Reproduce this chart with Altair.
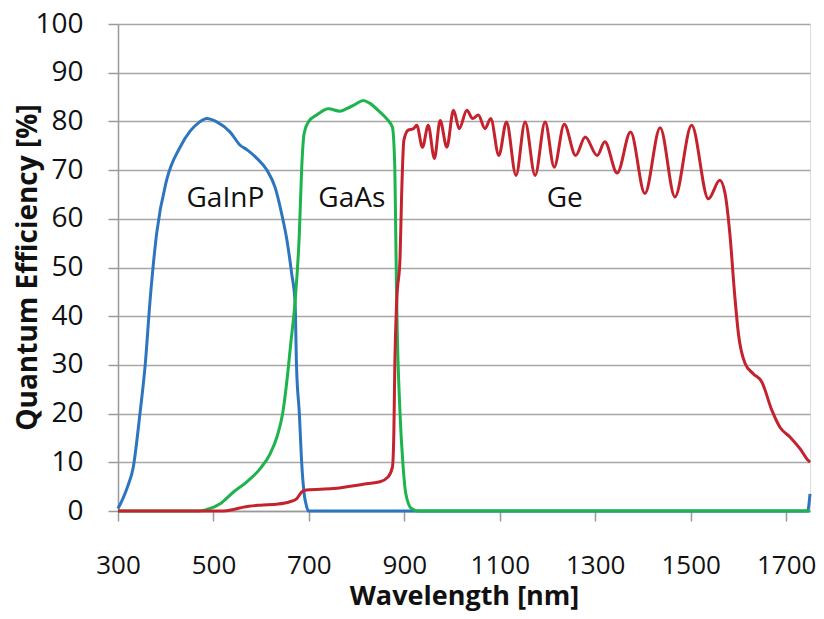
import altair as alt
import pandas as pd

# GaInP (blue)
gainp_nm = [300, 310, 320, 332, 346, 357, 367, 381, 402, 430, 451, 470, 486, 507, 535, 556, 570, 591, 612, 629, 643, 654, 664, 671, 674, 680, 685, 690, 695, 699, 720, 800, 900, 1100, 1300, 1500, 1700, 1745, 1750]
gainp_qe = [0.5, 2.5, 5, 9, 20, 30, 43, 57, 68, 74.7, 78, 79.8, 80.6, 79.9, 77.8, 75.1, 74.2, 72.4, 70, 66.5, 61, 55.6, 48.7, 43, 30, 20, 9.7, 3.6, 1, 0, 0, 0, 0, 0, 0, 0, 0, 0, 3.5]

# GaAs (green)
gaas_nm = [300, 400, 470, 486, 514, 542, 570, 598, 619, 633, 645, 654, 662, 671, 680, 685, 690, 699, 716, 741, 765, 779, 797, 814, 828, 849, 866, 875, 880, 882, 884, 891, 897, 903, 915, 930, 1100, 1300, 1500, 1750]
gaas_qe = [0, 0, 0, 0.3, 1.5, 3.9, 6, 8.7, 11.8, 15.2, 20, 26.8, 34.4, 43, 57, 70.6, 77.5, 79.9, 81.3, 82.6, 82.1, 82.6, 83.5, 84.3, 83.7, 81.9, 80.2, 78.8, 70.6, 57, 43, 20, 9.7, 3.6, 0.5, 0, 0, 0, 0, 0]

# Ge (red)
ge_nm = [300, 450, 520, 542, 563, 598, 633, 660, 674, 685, 695, 751, 821, 849, 866, 875, 878, 880, 884, 891, 894, 899, 908, 919, 926, 938, 950, 963, 975, 989, 1003, 1015, 1031, 1043, 1055, 1069, 1081, 1098, 1114, 1134, 1153, 1174, 1195, 1214, 1235, 1259, 1279, 1304, 1320, 1346, 1374, 1404, 1436, 1467, 1502, 1537, 1561, 1572, 1582, 1592, 1600, 1614, 1631, 1649, 1670, 1687, 1708, 1729, 1746, 1750]
ge_qe = [0, 0, 0, 0.3, 0.8, 1.2, 1.4, 1.9, 2.5, 3.9, 4.3, 4.6, 5.6, 6, 7, 9, 15.9, 29.6, 43, 52, 63.8, 76.1, 78.2, 78.5, 79.2, 74.7, 79.2, 72.4, 80.2, 74.7, 82.3, 78.5, 82.3, 80.6, 81.3, 78.5, 80.6, 73, 79.9, 68.9, 79.9, 68.9, 79.9, 70.6, 79.4, 73, 76.8, 73, 75.8, 69.4, 77.8, 65.2, 78.7, 64.5, 79.2, 64.1, 67.9, 65.2, 57, 44.6, 36.4, 30.3, 28.2, 26.5, 20.7, 17.2, 15.2, 12.8, 10.4, 10]

series_names = ["GaInP", "GaAs", "Ge"]
series_colors = ["#2e75c0", "#1db34d", "#c4222d"]

label_text = ["GaInP", "GaAs", "Ge"]
label_nm = [525, 790, 1236]
label_qe = [64, 64, 64]

x_ticks = [300, 500, 700, 900, 1100, 1300, 1500, 1700]
y_ticks = [0, 10, 20, 30, 40, 50, 60, 70, 80, 90, 100]

rows = []
for name, xs, ys in [("GaInP", gainp_nm, gainp_qe), ("GaAs", gaas_nm, gaas_qe), ("Ge", ge_nm, ge_qe)]:
    for i, (a, b) in enumerate(zip(xs, ys)):
        rows.append({"series": name, "nm": a, "qe": b, "order": i})
df = pd.DataFrame(rows)
labels_df = pd.DataFrame({"text": label_text, "nm": label_nm, "qe": label_qe})

FONT = "Open Sans"

x_scale = alt.Scale(domain=[300, 1750], nice=False, zero=False)
y_scale = alt.Scale(domain=[0, 100], nice=False)

lines = alt.Chart(df).mark_line(strokeWidth=3, interpolate="monotone").encode(
    x=alt.X("nm:Q", scale=x_scale,
            axis=alt.Axis(values=x_ticks, format="d", title="Wavelength [nm]", grid=False,
                          labelFlush=False, labelOverlap=False,
                          labelFontSize=26, labelFont=FONT, labelColor="#111",
                          labelPadding=31, tickSize=10, tickColor="#999", tickWidth=1.5,
                          domainColor="#999", domainWidth=1.5,
                          titleFont=FONT, titleFontSize=27, titleFontWeight="bold", titleColor="#111",
                          titleBaseline="alphabetic", titleY=93)),
    y=alt.Y("qe:Q", scale=y_scale,
            axis=alt.Axis(values=y_ticks, title="Quantum Efficiency [%]", grid=True,
                          labelFlush=False, labelOverlap=False,
                          gridColor="#a6a6a6", gridWidth=1.5,
                          labelFontSize=28, labelFont=FONT, labelColor="#111",
                          labelPadding=25, tickSize=10, tickColor="#999", tickWidth=1.5,
                          domainColor="#999", domainWidth=1.5,
                          titleFont=FONT, titleFontSize=28, titleFontWeight="bold", titleColor="#111",
                          titleX=-76, titleY=243, titleAngle=-90, titleBaseline="bottom")),
    color=alt.Color("series:N", scale=alt.Scale(domain=series_names, range=series_colors), legend=None),
    order="order:Q",
)

texts = alt.Chart(labels_df).mark_text(font=FONT, fontSize=28, color="#111").encode(
    x=alt.X("nm:Q", scale=x_scale),
    y=alt.Y("qe:Q", scale=y_scale),
    text="text:N",
)

chart = alt.layer(lines, texts).properties(
    width=692, height=487,
    autosize=alt.AutoSizeParams(type="none"),
    padding={"left": 110, "top": 16, "right": 6, "bottom": 100},
).configure_view(stroke="#a6a6a6", strokeWidth=1.5).configure(background="white")

chart.save("out.html", embed_options={"renderer": "svg", "actions": False})
